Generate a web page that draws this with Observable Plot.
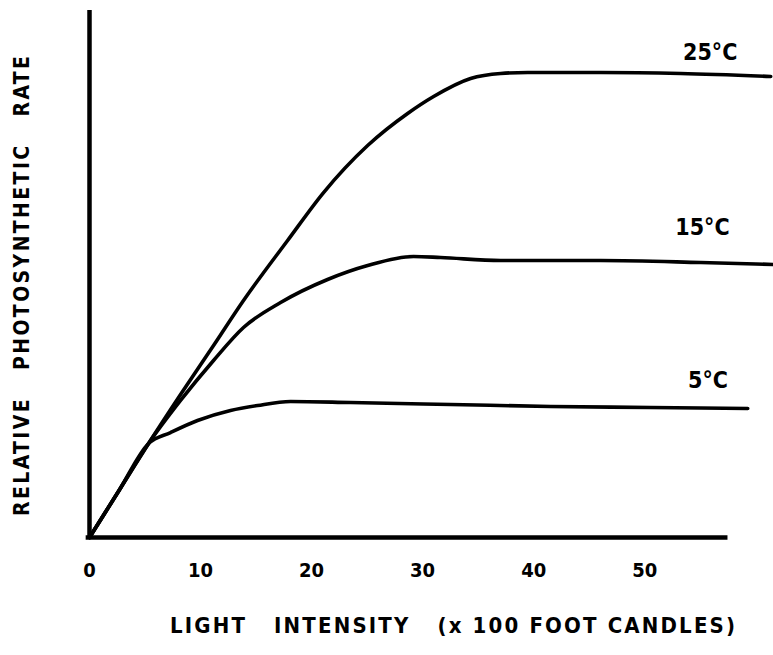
<!DOCTYPE html>
<html>
<head>
<meta charset="utf-8">
<script src="https://cdn.jsdelivr.net/npm/d3@7"></script>
<script src="https://cdn.jsdelivr.net/npm/@observablehq/plot@0.6"></script>
<style>
  html, body { margin: 0; padding: 0; background: #fff; }
  #chart svg { display: block; }
</style>
</head>
<body>
<div id="chart"></div>
<script>
// Light intensity (x100 foot candles) vs relative photosynthetic rate
const x25 = [0, 2.66, 5.32, 8.2, 11.17, 13.87, 17.84, 21.08, 25.05, 28.65, 30.99, 34.32, 37.03, 39.46, 46.04, 53.24, 61.35];
const y25 = [0, 8.92, 17.84, 27.13, 36.43, 44.97, 56.36, 65.46, 74.38, 80.46, 83.68, 87.10, 88.05, 88.24, 88.24, 88.05, 87.48];

const x15 = [0, 2.66, 5.32, 8.2, 11.17, 13.87, 17.21, 21.44, 25.05, 29.19, 31.62, 37.03, 46.04, 55.05, 61.62];
const y15 = [0, 8.92, 17.84, 26.0, 33.59, 39.85, 44.59, 48.96, 51.61, 53.32, 53.13, 52.56, 52.56, 52.18, 51.80];

const x5 = [0, 2.66, 5.32, 7.3, 9.73, 12.7, 15.14, 18.11, 23.51, 32.52, 41.53, 50.54, 59.28];
const y5 = [0, 8.92, 17.84, 19.92, 22.2, 24.1, 25.05, 25.81, 25.62, 25.24, 24.86, 24.67, 24.48];

const seriesNames = ["25°C", "15°C", "5°C"];
const labelX = [55.9, 55.2, 55.7];
const labelY = [92.1, 58.8, 29.8];

const xTicks = [0, 10, 20, 30, 40, 50];
const xAxisEnd = 57.5;
const xTitle = "LIGHT\u00a0\u00a0\u00a0INTENSITY\u00a0\u00a0\u00a0(x\u00a0100\u00a0FOOT\u00a0CANDLES)";
const yTitle = "RELATIVE\u00a0\u00a0\u00a0PHOTOSYNTHETIC\u00a0\u00a0\u00a0RATE";

const toRows = (xs, ys, name) => xs.map((x, i) => ({x, y: ys[i], series: name}));
const curves = [
  ...toRows(x25, y25, seriesNames[0]),
  ...toRows(x15, y15, seriesNames[1]),
  ...toRows(x5, y5, seriesNames[2])
];
const labels = seriesNames.map((s, i) => ({s, x: labelX[i], y: labelY[i]}));

const font = "'DejaVu Sans Condensed', 'DejaVu Sans', sans-serif";

const chart = Plot.plot({
  width: 773,
  height: 655,
  marginLeft: 89,
  marginRight: 0,
  marginTop: 10,
  marginBottom: 118,
  style: {background: "#fff", color: "#000", fontFamily: font},
  x: {domain: [0, 61.6], axis: null},
  y: {domain: [0, 100], axis: null},
  marks: [
    Plot.axisX({ticks: xTicks, tickSize: 0, tickPadding: 25, fontSize: 20, fontWeight: "bold", label: null, fontFamily: font}),
    Plot.ruleX([0], {y1: 0, y2: 100, stroke: "#000", strokeWidth: 4.5}),
    Plot.ruleY([0], {x1: -0.3, x2: xAxisEnd, stroke: "#000", strokeWidth: 4.5}),
    Plot.line(curves, {x: "x", y: "y", z: "series", curve: "monotone-x", stroke: "#000", strokeWidth: 3.6, strokeLinecap: "round", strokeLinejoin: "round"}),
    Plot.text(labels, {x: "x", y: "y", text: "s", fontSize: 23, fontWeight: "bold", fontFamily: font, fill: "#000"}),
    Plot.text([xTitle], {frameAnchor: "bottom", dx: 21, dy: 95, fontSize: 22, fontWeight: "bold", fontFamily: font, fill: "#000"}),
    Plot.text([yTitle], {frameAnchor: "left", textAnchor: "middle", dx: -67, dy: 12, rotate: -90, fontSize: 21, fontWeight: "bold", fontFamily: font, fill: "#000"})
  ]
});
document.getElementById("chart").appendChild(chart);

// stretch the hand-lettered axis titles to the reference's spans
d3.select(chart).selectAll("text").each(function () {
  const t = this.textContent;
  if (t === xTitle) d3.select(this).attr("textLength", 565).attr("lengthAdjust", "spacing");
  if (t === yTitle) d3.select(this).attr("textLength", 460).attr("lengthAdjust", "spacing");
});
</script>
</body>
</html>
